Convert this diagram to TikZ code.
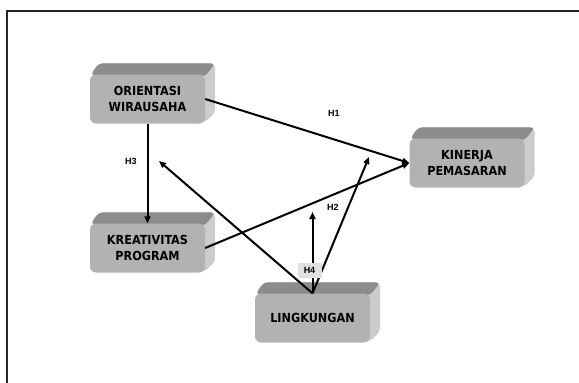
\documentclass[tikz,border=0pt]{standalone}
\usepackage{fontspec}
\setmainfont{Liberation Sans}
\newfontfamily\boxfont{DejaVu Sans Condensed Bold}
\usetikzlibrary{arrows.meta,calc,backgrounds}
\tikzset{
  face/.style={fill=black!30, rounded corners=6pt, minimum width=115pt, minimum height=49pt,
    inner sep=0pt, align=center, font=\boxfont\fontsize{12.5}{16.5}\selectfont, text=black},
  arr/.style={line width=2pt, -{Triangle[length=7pt,width=6pt]}},
  lbl/.style={font=\bfseries\fontsize{9}{10}\selectfont, inner sep=1pt},
}
\newcommand\extrudebox[1]{%
  \begin{scope}[on background layer]
    \fill[black!20, rounded corners=5pt] (#1.north west) -- ($(#1.north west)+(9,-11)$)
      -- ($(#1.north east)+(10,-11)$) -- ($(#1.south east)+(10,-11)$) -- ($(#1.south east)+(-2,0)$) -- cycle;
    \fill[black!45, rounded corners=4pt] ($(#1.north west)+(1,1)$) -- ($(#1.north west)+(9,-11)$)
      -- ($(#1.north east)+(10,-11)$) -- ($(#1.north east)+(0,2)$) -- cycle;
  \end{scope}}
\begin{document}
\begin{tikzpicture}[x=1pt,y=-1pt]
\useasboundingbox (0,0) rectangle (579,383);
\draw[line width=1.3pt, black!85] (600,11) -- (7,11) -- (7,400);

\node[face] (ow) at (147.5,99) {ORIENTASI\\WIRAUSAHA};
\node[face] (kp) at (467,163) {KINERJA\\PEMASARAN};
\node[face] (kr) at (147.5,248) {KREATIVITAS\\PROGRAM};
\node[face] (lk) at (312.5,318) {LINGKUNGAN};
\extrudebox{ow}
\extrudebox{kp}
\extrudebox{kr}
\extrudebox{lk}

\coordinate (t3) at (159,161);
\coordinate (t4) at (312.5,212);
\coordinate (t2) at (369,157);

\draw[arr] (ow.east) -- (kp.west);
\draw[arr] (kr.east) -- (kp.west);
\draw[arr] (ow.south) -- (kr.north);
\draw[arr] (lk.north) -- (t3);
\draw[arr] (lk.north) -- (t4);
\draw[arr] (lk.north) -- (t2);

\node[lbl] (h1) at (334,113) {H1};
\node[lbl] (h2) at (333,207) {H2};
\node[lbl] (h3) at (131,161) {H3};
\node[lbl, fill=black!12, minimum width=24pt, minimum height=15pt] (h4) at (309.5,270) {H4};
\end{tikzpicture}
\end{document}
